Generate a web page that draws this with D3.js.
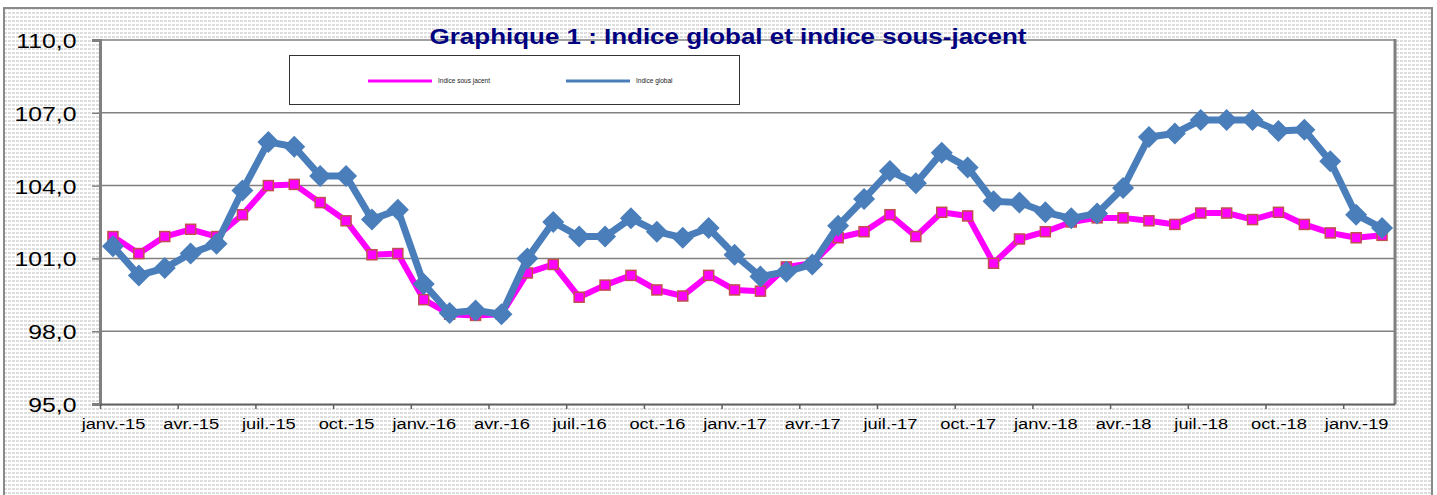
<!DOCTYPE html>
<html><head><meta charset="utf-8">
<script src="https://cdn.jsdelivr.net/npm/d3@7"></script>
<style>html,body{margin:0;padding:0;background:#fff;overflow:hidden}svg{display:block}text{font-family:"Liberation Sans",Arial,sans-serif}</style>
</head><body><svg id="c" width="1437" height="495"></svg>
<script>
const categories = ["janv.-15","févr.-15","mars-15","avr.-15","mai-15","juin-15","juil.-15","août-15","sept.-15","oct.-15","nov.-15","déc.-15",
"janv.-16","févr.-16","mars-16","avr.-16","mai-16","juin-16","juil.-16","août-16","sept.-16","oct.-16","nov.-16","déc.-16",
"janv.-17","févr.-17","mars-17","avr.-17","mai-17","juin-17","juil.-17","août-17","sept.-17","oct.-17","nov.-17","déc.-17",
"janv.-18","févr.-18","mars-18","avr.-18","mai-18","juin-18","juil.-18","août-18","sept.-18","oct.-18","nov.-18","déc.-18",
"janv.-19","févr.-19"];
const indiceGlobal = [101.5,100.3,100.6,101.2,101.6,103.8,105.8,105.6,104.4,104.4,102.6,103.0,
99.95,98.75,98.85,98.7,101.0,102.5,101.9,101.9,102.65,102.1,101.85,102.25,
101.15,100.25,100.45,100.75,102.35,103.45,104.6,104.1,105.35,104.75,103.35,103.3,
102.9,102.65,102.85,103.9,106.0,106.15,106.7,106.7,106.7,106.25,106.3,105.0,
102.8,102.25];
const indiceSousJacent = [101.9,101.2,101.9,102.2,101.9,102.8,104.0,104.05,103.3,102.55,101.15,101.2,
99.3,98.7,98.65,98.7,100.4,100.75,99.4,99.9,100.3,99.7,99.45,100.3,
99.7,99.65,100.65,100.8,101.85,102.1,102.8,101.9,102.9,102.75,100.8,101.8,
102.1,102.5,102.67,102.67,102.55,102.4,102.87,102.87,102.6,102.9,102.4,102.05,
101.85,101.95];
const yTicks = [95,98,101,104,107,110];
const seriesNames = ["Indice sous jacent","Indice global"];
const title = "Graphique 1 : Indice global et indice sous-jacent";

const svg = d3.select("#c");
const SX = 1.18;
const L=100, R=1395, T=40, B=404;

// background pattern
const defs = svg.append("defs");
const pat = defs.append("pattern").attr("id","dots").attr("width",4).attr("height",4).attr("patternUnits","userSpaceOnUse");
pat.append("rect").attr("width",4).attr("height",4).attr("fill","#fff");
pat.append("rect").attr("x",0).attr("y",0).attr("width",3).attr("height",2).attr("fill","#dedede");
svg.append("rect").attr("x",0).attr("y",0).attr("width",1437).attr("height",495).attr("fill","#fff");
svg.append("rect").attr("x",4).attr("y",8).attr("width",1428).attr("height",500).attr("fill","url(#dots)").attr("stroke","#8a8a8a").attr("stroke-width",2);

// plot area
svg.append("rect").attr("x",L).attr("y",T).attr("width",R-L).attr("height",B-T).attr("fill","#fff");

const x = d3.scaleBand().domain(d3.range(categories.length)).range([L,R]).paddingInner(0).paddingOuter(0);
const xl = d3.scaleLinear().domain([0,categories.length]).range([L,R]);
const y = d3.scaleLinear().domain([95,110]).range([B,T]);
const cx = i => x(i) + x.bandwidth()/2;

// gridlines
svg.append("g").selectAll("line").data(yTicks.filter(v=>v>95)).join("line")
  .attr("x1",L).attr("x2",R).attr("y1",d=>y(d)).attr("y2",d=>y(d))
  .attr("stroke","#808080").attr("stroke-width",1.5);

// right border
svg.append("line").attr("x1",R).attr("x2",R).attr("y1",T-1).attr("y2",B).attr("stroke","#808080").attr("stroke-width",3);

// y axis
const yAxis = svg.append("g").attr("transform",`translate(${L},0)`)
  .call(d3.axisLeft(y).tickValues(yTicks).tickSize(8).tickFormat(d=>d3.format(".1f")(d).replace(".",",")));
yAxis.select(".domain").attr("stroke","#808080").attr("stroke-width",3);
yAxis.selectAll(".tick line").attr("stroke","#808080").attr("stroke-width",1.5);
yAxis.selectAll(".tick text").attr("font-size",21).attr("fill","#000")
  .attr("x",-20).attr("dy","0.36em").attr("transform",`scale(${SX},1)`);

// x axis
const tickIdx = d3.range(0, categories.length, 3);
const xAxis = svg.append("g").attr("transform",`translate(0,${B})`)
  .call(d3.axisBottom(xl).tickValues(tickIdx).tickSize(5).tickSizeOuter(0).tickFormat(i=>categories[i]));
xAxis.select(".domain").attr("stroke","#606060").attr("stroke-width",2);
xAxis.selectAll(".tick line").attr("stroke","#606060").attr("stroke-width",1.5);
xAxis.selectAll(".tick text").attr("font-size",15.5).attr("fill","#000")
  .attr("y",25).attr("dy",0).attr("x",(x.bandwidth()/2)/SX).attr("transform",`scale(${SX},1)`);

// lines
const line = arr => d3.line().x((d,i)=>cx(i)).y(d=>y(d))(arr);
svg.append("path").attr("d",line(indiceSousJacent)).attr("fill","none").attr("stroke","#FF00FF").attr("stroke-width",6).attr("stroke-linejoin","round");
svg.append("g").selectAll("rect").data(indiceSousJacent).join("rect")
  .attr("x",(d,i)=>cx(i)-5).attr("y",d=>y(d)-5).attr("width",10).attr("height",10)
  .attr("fill","#FF00FF").attr("stroke","#C0504D").attr("stroke-width",1.5);
svg.append("path").attr("d",line(indiceGlobal)).attr("fill","none").attr("stroke","#4A7EBB").attr("stroke-width",7).attr("stroke-linejoin","round");
const dia = 11;
svg.append("g").selectAll("path").data(indiceGlobal).join("path")
  .attr("d",(d,i)=>{const px=cx(i),py=y(d);return `M${px},${py-dia}L${px+dia},${py}L${px},${py+dia}L${px-dia},${py}Z`;})
  .attr("fill","#4A7EBB");

// legend
svg.append("rect").attr("x",289.5).attr("y",55.5).attr("width",450).attr("height",49).attr("fill","#fff").attr("stroke","#333").attr("stroke-width",1);
const legendItems = [{name:seriesNames[0],color:"#FF00FF",x:368},{name:seriesNames[1],color:"#4A7EBB",x:566}];
const lg = svg.append("g").selectAll("g").data(legendItems).join("g");
lg.append("line").attr("x1",d=>d.x).attr("x2",d=>d.x+64).attr("y1",81).attr("y2",81).attr("stroke",d=>d.color).attr("stroke-width",3);
lg.append("text").attr("x",d=>d.x+70).attr("y",83).attr("font-size",6.5).attr("fill","#222").text(d=>d.name);

// title
svg.append("text").attr("transform",`translate(728,44) scale(${SX},1)`).attr("text-anchor","middle")
  .attr("font-size",22).attr("font-weight","bold").attr("fill","#000080").text(title);
</script></body></html>
